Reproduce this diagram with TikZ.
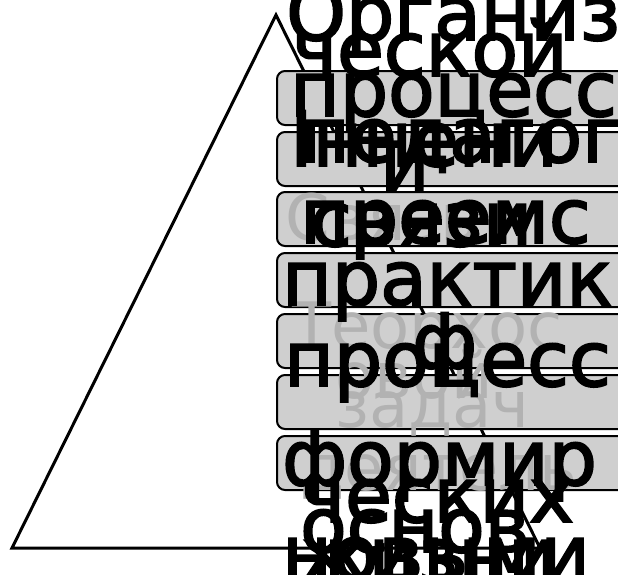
\documentclass[tikz,border=0pt]{standalone}
\usepackage{fontspec}
\setmainfont{DejaVu Sans}
\newfontfamily\heavy[FakeBold=2.5]{DejaVu Sans}
\begin{document}
\begin{tikzpicture}[x=1pt,y=-1pt,
  tri/.style={draw=black,line width=3pt,line join=miter},
  level/.style={draw=black,line width=2pt,fill=black!19,rounded corners=8pt},
  big/.style={anchor=base west,inner sep=0pt,font=\heavy\fontsize{76}{76}\selectfont,text=black},
  ghost/.style={anchor=base west,inner sep=0pt,font=\fontsize{64}{64}\selectfont,text=black!30}]
\useasboundingbox (0,0) rectangle (618,574);
\coordinate (apex) at (276,15);
\coordinate (bl) at (12,548);
\coordinate (br) at (540,548);
\draw[tri] (apex) -- (bl) -- (br) -- cycle;
\foreach \i/\y in {1/71,2/132,3/192,4/253,5/314,6/375,7/436}{
  \draw[level] (277,\y) rectangle (660,\y+54);
  \coordinate (L\i) at (282,\y+54);
}
% faint grey text
\node[ghost] (g1) at (285,240) {Связь};
\node[ghost] (g2) at (292,348) {Теорхос};
\node[ghost] (g3) at (335,398) {овой};
\node[ghost] (g4) at (335,427) {задач};
\node[ghost] (g5) at (300,490) {деятель};
% large overlapping black text
\node[big] (t1) at (286,40) {Организ};
\node[big] (t2) at (292,76) {ческой};
\node[big] (t3) at (290,116) {процесс};
\node[big] (t4) at (300,162) {педагог};
\node[big] (t5) at (290,166) {Іннени};
\node[big] (t6) at (380,190) {и};
\node[big] (t7) at (300,243) {преемс};
\node[big] (t8) at (310,246) {связи};
\node[big] (t9) at (282,305) {практик};
\node[big] (t10) at (412,368) {ф};
\node[big] (t11) at (284,386) {процесс};
\node[big] (t12) at (282,485) {формир};
\node[big] (t13) at (300,522) {ческих};
\node[big] (t14) at (300,552) {основ};
\node[big] (t15) at (282,580) {новыми};
\node[big] (t16) at (300,582) {жизни};
\end{tikzpicture}
\end{document}
